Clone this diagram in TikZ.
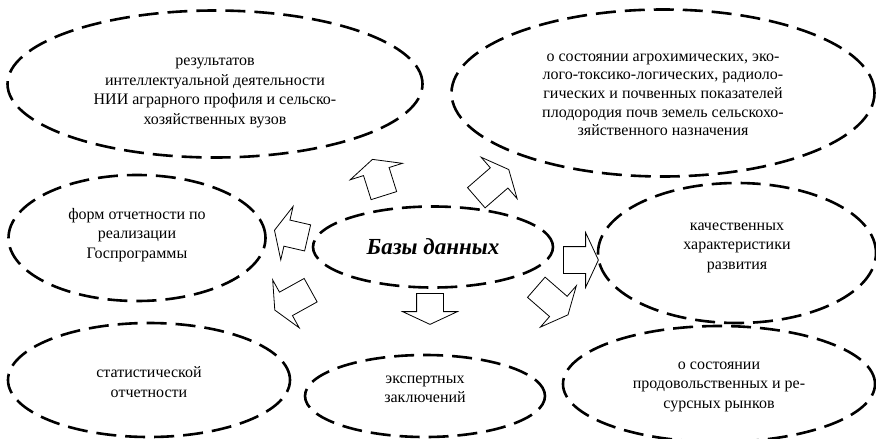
\documentclass[tikz,border=0pt]{standalone}
\usepackage{fontspec}
\setmainfont{Liberation Serif}
\usetikzlibrary{shapes.geometric}
\usetikzlibrary{shapes.arrows}

\begin{document}
\begin{tikzpicture}[x=1pt, y=-1pt,
  topic/.style ={ ellipse, draw, black, text = black, dash pattern = on 20pt off 9pt,
  line width = 2.6pt, inner sep = 0pt, align = center, font = \fontsize{16}{19.5}\selectfont},
  base/.style ={ topic, font = \fontsize{23}{26}\selectfont\bfseries\itshape},
  pointer/.style ={ single arrow, draw, black, solid, line width = 0.8pt, inner xsep = 0pt,
  inner ysep = 13pt, text height = 0pt, text depth = 0pt, anchor = tail,
  single arrow head extend = 14pt, single arrow tip angle = 130}]
  \useasboundingbox (0,0) rectangle (876,439);
  % central node
  \node[base, minimum width = 240pt, minimum height = 81pt] (db) at (433,247)
  {Базы данных};
  % kinds of data
  \node[topic, minimum width = 415pt, minimum height = 147pt] (res) at (215,84)
  {\rule{0pt}{25pt}результатов\\ интеллектуальной деятельности\\ НИИ аграрного профиля и сельско-\\ хозяйственных вузов};
  \node[topic, minimum width = 423pt, minimum height = 167pt,
  font = \fontsize{16}{18.7}\selectfont] (soil) at (663,93)
  {\rule{0pt}{11pt}о состоянии агрохимических, эко-\\ лого-токсико-логических, радиоло-\\ гических и почвенных показателей\\ плодородия почв земель сельскохо-\\ зяйственного назначения};
  \node[topic, minimum width = 257pt, minimum height = 126pt] (rep) at (137,238)
  {форм отчетности по\\ реализации\\ Госпрограммы\rule[-9.5pt]{0pt}{0pt}};
  \node[topic, minimum width = 278pt, minimum height = 140pt] (qual) at (737,253)
  {качественных\\ характеристики\\ развития\rule[-14pt]{0pt}{0pt}};
  \node[topic, minimum width = 282pt, minimum height = 114pt] (stat) at (149,380)
  {\rule{0pt}{15pt}статистической\\ отчетности};
  \node[topic, minimum width = 240pt, minimum height = 82pt] (exp) at (425,396)
  {экспертных\\ заключений\rule[-14pt]{0pt}{0pt}};
  \node[topic, minimum width = 312pt, minimum height = 116pt] (mark) at (719,384)
  {\rule{0pt}{13pt}о состоянии\\ продовольственных и ре-\\ сурсных рынков};
  % block arrows
  \node[pointer, rotate = 107.5, minimum height = 38pt] (toRes) at (384,196) {};
  \node[pointer, rotate = 41, minimum height = 43pt] (toSoil) at (476,198) {};
  \node[pointer, rotate = 167, minimum height = 34pt] (toRep) at (308,238) {};
  \node[pointer, rotate = 209, minimum height = 41pt] (toStat) at (311,290) {};
  \node[pointer, rotate = 270, minimum height = 31pt] (toExp) at (430,293) {};
  \node[pointer, rotate = 0, minimum height = 35pt] (toQual) at (563,260) {};
  \node[pointer, rotate = -41, minimum height = 42pt] (toMark) at (536,287) {};
\end{tikzpicture}
\end{document}
